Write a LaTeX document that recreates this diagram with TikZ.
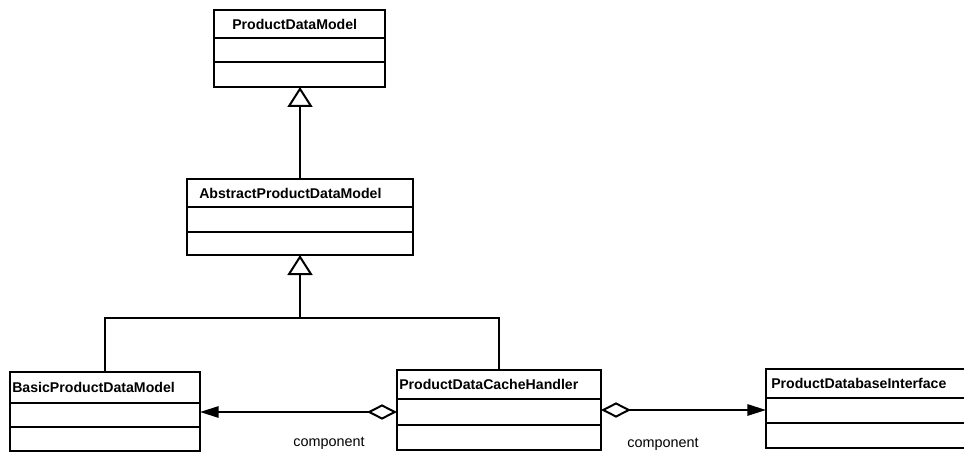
\documentclass[tikz,border=0pt]{standalone}
\usepackage{fontspec}
\setmainfont{Liberation Sans}
\usetikzlibrary{arrows.meta,calc}

\tikzset{
  classbox/.style={draw, line width=1.5pt, rectangle, anchor=north west,
    inner sep=0pt, outer sep=0pt},
  classname/.style={anchor=west, inner sep=0pt,
    font=\fontsize{10.6}{12}\selectfont\bfseries},
  rolelabel/.style={anchor=base, inner sep=0pt,
    font=\fontsize{10.8}{12}\selectfont},
  divider/.style={line width=1.5pt},
  link/.style={line width=1.5pt},
  inherit/.style={link, -{Triangle[length=15pt,width=18.75pt,fill=white]}},
  assoc/.style={link,
    {Diamond[length=22.5pt,width=11.5pt,fill=white]}-{Triangle[length=14pt,width=8.5pt]}},
}

% draws the two compartment rules of a class box, #2 and #3 in px below its top
\newcommand\classrules[3]{%
  \draw[divider] ($(#1.north west)+(0,#2)$) -- ($(#1.north east)+(0,#2)$);
  \draw[divider] ($(#1.north west)+(0,#3)$) -- ($(#1.north east)+(0,#3)$);
}

\begin{document}
\begin{tikzpicture}[x=0.75pt,y=-0.75pt]
  \useasboundingbox (0,0) rectangle (964,453);
  \fill[white] (0,0) rectangle (964,453);
  \clip (0,0) rectangle (964,453);

  % class boxes
  \node[classbox, minimum width=128.25pt, minimum height=57.75pt] (pdm) at (214,10) {};
  \classrules{pdm}{28}{52}
  \node[classname] (pdm-name) at ($(pdm.north west)+(18,14)$) {ProductDataModel};

  \node[classbox, minimum width=169.5pt, minimum height=57pt] (apdm) at (187,179) {};
  \classrules{apdm}{28}{53}
  \node[classname] (apdm-name) at ($(apdm.north west)+(12,14)$) {AbstractProductDataModel};

  \node[classbox, minimum width=142.5pt, minimum height=59.25pt] (bpdm) at (10,372) {};
  \classrules{bpdm}{31}{55}
  \node[classname] (bpdm-name) at ($(bpdm.north west)+(2,15)$) {BasicProductDataModel};

  \node[classbox, minimum width=153pt, minimum height=60pt] (pdch) at (397,370) {};
  \classrules{pdch}{29}{55}
  \node[classname] (pdch-name) at ($(pdch.north west)+(2,14)$) {ProductDataCacheHandler};

  \node[classbox, minimum width=172.5pt, minimum height=59.25pt] (pdbi) at (766,369) {};
  \classrules{pdbi}{29}{54}
  \node[classname] (pdbi-name) at ($(pdbi.north west)+(5,14)$) {ProductDatabaseInterface};

  % generalisations
  \draw[inherit] (apdm.north) -- (apdm.north |- pdm.south);
  \coordinate (fork) at (300,318);
  \draw[inherit] (fork) -- (fork |- apdm.south);
  \draw[link] (bpdm.north) |- (fork) -| (pdch.north);

  % aggregations
  \coordinate (left-end) at ($(pdch.west)+(0,2)$);
  \draw[assoc] (left-end) -- (left-end -| bpdm.east);
  \draw[assoc] (pdch.east) -- (pdch.east -| pdbi.west);

  % role names
  \node[rolelabel] (role-left) at (329,446) {component};
  \node[rolelabel] (role-right) at (663,447) {component};
\end{tikzpicture}
\end{document}
